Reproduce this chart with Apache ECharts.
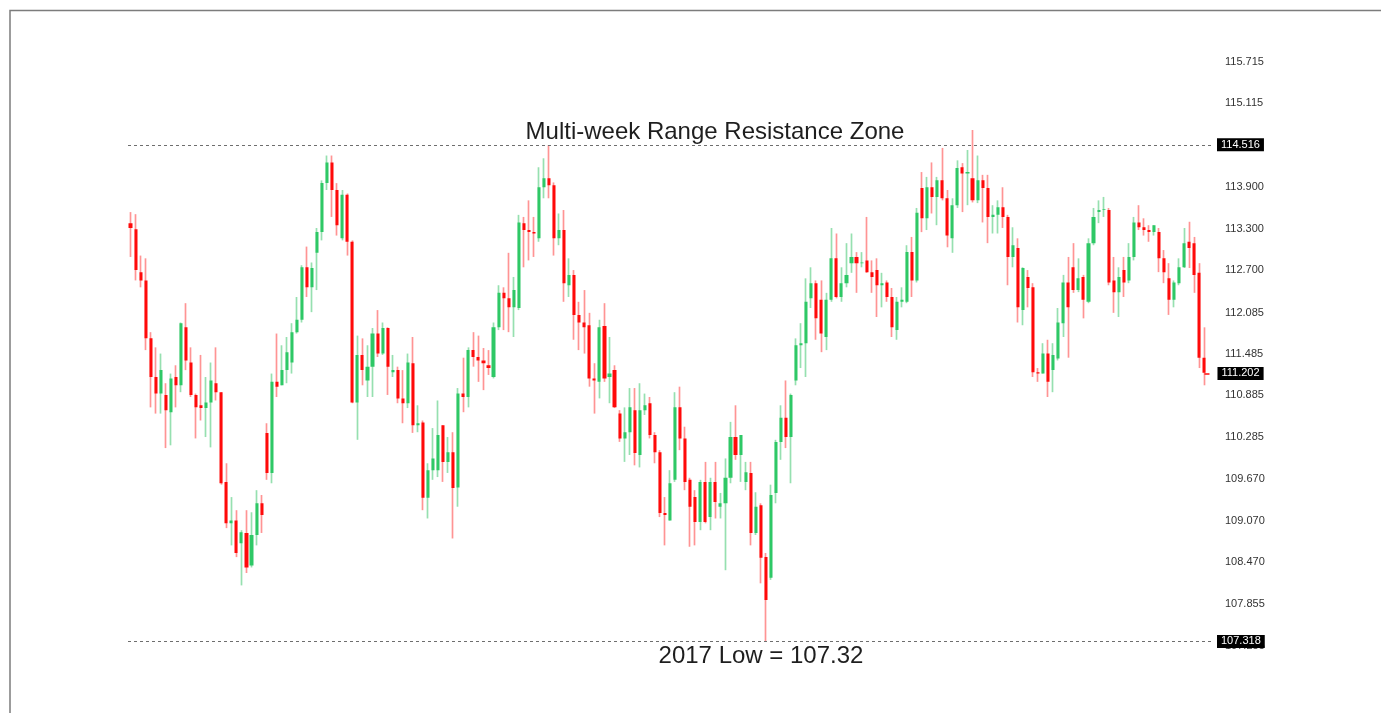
<!DOCTYPE html>
<html>
<head>
<meta charset="utf-8">
<title>USDJPY range</title>
<script src="https://cdn.jsdelivr.net/npm/echarts@6/dist/echarts.min.js"></script>
<style>
  html, body { margin: 0; padding: 0; background: #fff; }
  #chart { width: 1381px; height: 713px; }
</style>
</head>
<body>
<div id="chart"></div>
<script>
// daily candles (oldest first)
const opens = [
  113.38, 113.29, 112.67, 112.55, 111.71, 111.15, 110.91, 110.89, 110.64, 111.15,
  111.03, 111.87, 111.36, 110.89, 110.74, 110.70, 110.78, 111.06, 110.93, 109.63,
  109.03, 109.07, 108.74, 108.89, 108.42, 108.86, 109.32, 110.34, 109.76, 111.08,
  111.03, 111.25, 111.36, 111.80, 111.98, 112.74, 112.45, 112.95, 113.25, 113.96,
  114.26, 113.86, 113.16, 113.79, 113.11, 110.78, 111.47, 111.10, 111.30, 111.78,
  111.49, 111.86, 111.22, 111.25, 110.84, 110.77, 111.35, 110.45, 110.49, 109.40,
  109.80, 109.80, 110.45, 109.92, 110.06, 109.55, 110.91, 110.86, 111.54, 111.44,
  111.39, 111.32, 111.15, 111.87, 112.37, 112.29, 112.16, 112.15, 113.38, 113.28,
  113.25, 113.16, 113.90, 114.03, 113.93, 113.16, 113.28, 112.48, 112.63, 112.05,
  111.94, 111.90, 111.13, 111.08, 111.89, 111.15, 111.25, 110.62, 110.26, 110.35,
  110.67, 110.02, 110.67, 110.77, 110.31, 110.06, 109.18, 109.07, 109.66, 110.71,
  110.26, 109.66, 109.41, 109.05, 109.63, 109.12, 109.63, 109.27, 109.32, 109.69,
  110.28, 110.02, 109.63, 109.76, 108.89, 109.29, 108.54, 108.24, 109.47, 110.21,
  110.56, 110.28, 111.10, 111.61, 111.64, 112.29, 112.51, 112.27, 111.73, 112.27,
  112.87, 112.31, 112.51, 112.80, 112.89, 112.80, 112.84, 112.67, 112.70, 112.48,
  112.52, 112.31, 111.83, 112.24, 112.24, 112.96, 112.55, 113.89, 113.45, 113.90,
  113.76, 114.00, 113.74, 113.16, 113.64, 114.19, 114.10, 114.03, 113.71, 114.00,
  113.89, 113.47, 113.50, 113.61, 113.47, 112.89, 113.02, 112.12, 112.60, 112.45,
  111.22, 111.20, 111.49, 111.25, 111.42, 111.93, 112.52, 112.74, 112.41, 112.60,
  112.24, 113.09, 113.54, 113.57, 113.57, 112.55, 112.38, 112.70, 112.55, 112.89,
  113.39, 113.32, 113.28, 113.25, 113.25, 112.87, 112.58, 112.27, 112.51, 112.74,
  113.11, 113.09, 112.66, 111.43
];
const closes = [
  113.31, 112.70, 112.55, 111.71, 111.15, 110.91, 111.25, 110.67, 111.13, 111.03,
  111.93, 111.39, 110.89, 110.71, 110.70, 110.78, 111.10, 110.93, 109.61, 109.03,
  109.07, 108.60, 108.90, 108.39, 108.86, 109.32, 109.15, 109.76, 111.08, 111.01,
  111.25, 111.51, 111.80, 111.98, 112.74, 112.45, 112.73, 113.25, 113.96, 114.26,
  113.86, 113.35, 113.79, 113.11, 110.78, 111.47, 111.25, 111.30, 111.78, 111.49,
  111.86, 111.30, 111.25, 110.84, 110.77, 111.36, 110.45, 110.48, 109.40, 109.80,
  109.97, 110.31, 109.92, 110.06, 109.54, 110.91, 110.86, 111.54, 111.44, 111.39,
  111.35, 111.28, 111.87, 112.37, 112.29, 112.16, 112.41, 113.39, 113.28, 113.25,
  113.23, 113.90, 114.03, 113.93, 113.16, 113.28, 112.51, 112.63, 112.05, 111.94,
  111.87, 111.13, 111.10, 111.87, 111.13, 111.20, 110.71, 110.26, 110.35, 110.71,
  110.05, 110.67, 110.74, 110.31, 110.06, 109.18, 109.15, 109.61, 110.71, 110.26,
  109.63, 109.27, 109.05, 109.63, 109.05, 109.63, 109.34, 109.32, 109.69, 110.28,
  110.02, 110.31, 109.77, 108.89, 109.27, 108.53, 107.92, 109.44, 110.21, 110.56,
  110.28, 110.89, 111.61, 111.64, 112.24, 112.51, 112.00, 111.78, 112.27, 112.87,
  112.31, 112.51, 112.63, 112.89, 112.80, 112.81, 112.67, 112.60, 112.48, 112.51,
  112.31, 111.87, 112.24, 112.27, 112.96, 112.55, 113.53, 113.45, 113.90, 113.76,
  114.00, 113.74, 113.20, 113.64, 114.18, 114.10, 114.12, 113.71, 114.00, 113.89,
  113.47, 113.50, 113.61, 113.47, 112.89, 113.06, 112.16, 112.73, 112.44, 111.22,
  111.20, 111.49, 111.08, 111.47, 111.94, 112.52, 112.16, 112.41, 112.58, 112.27,
  113.09, 113.47, 113.57, 113.58, 112.52, 112.38, 112.60, 112.52, 112.89, 113.39,
  113.32, 113.28, 113.25, 113.35, 112.87, 112.67, 112.27, 112.52, 112.74, 113.09,
  113.02, 112.63, 111.43, 111.21
];
const lows = [
  112.89, 112.55, 112.45, 111.54, 110.71, 110.62, 110.62, 110.12, 110.16, 110.71,
  110.93, 111.25, 110.86, 110.26, 110.52, 110.28, 110.13, 110.81, 109.59, 108.96,
  108.71, 108.54, 108.13, 108.31, 108.39, 108.71, 108.89, 109.66, 109.61, 110.86,
  111.03, 111.06, 111.20, 111.78, 111.94, 112.31, 112.09, 112.41, 113.13, 113.86,
  113.47, 113.20, 113.13, 112.91, 110.77, 110.24, 111.03, 110.86, 110.86, 111.44,
  111.47, 110.89, 111.15, 110.77, 110.48, 110.70, 110.34, 110.35, 109.22, 109.10,
  109.66, 109.70, 109.63, 109.76, 108.81, 109.27, 110.64, 110.71, 111.30, 111.08,
  110.96, 111.18, 111.13, 111.83, 111.83, 111.80, 111.73, 112.12, 112.74, 112.84,
  112.89, 113.11, 113.74, 113.74, 112.91, 113.06, 112.24, 112.31, 111.69, 111.54,
  111.49, 111.01, 110.62, 110.84, 111.08, 110.77, 110.70, 110.21, 109.92, 110.02,
  109.87, 109.84, 110.60, 110.26, 109.90, 109.12, 108.71, 109.07, 109.63, 110.09,
  109.51, 108.69, 108.71, 108.93, 109.03, 108.93, 109.10, 109.10, 108.35, 109.61,
  109.95, 109.63, 109.51, 108.71, 108.86, 108.16, 107.32, 108.21, 109.32, 109.95,
  110.12, 109.61, 111.03, 111.28, 111.15, 112.15, 111.69, 111.51, 111.54, 112.24,
  112.29, 112.24, 112.45, 112.66, 112.37, 112.74, 112.66, 112.37, 112.02, 112.16,
  112.24, 111.73, 111.69, 112.16, 112.22, 112.31, 112.52, 113.25, 113.28, 113.52,
  113.35, 113.71, 113.03, 112.95, 113.60, 113.54, 113.64, 113.68, 113.67, 113.39,
  113.09, 113.23, 113.23, 113.31, 112.48, 112.74, 111.94, 111.90, 112.16, 111.15,
  111.08, 111.20, 110.86, 110.93, 111.39, 111.73, 111.43, 112.37, 112.38, 112.00,
  112.22, 113.06, 113.38, 113.47, 112.48, 112.08, 112.02, 112.31, 112.51, 112.84,
  113.28, 113.20, 113.11, 113.20, 112.67, 112.51, 112.05, 112.16, 112.48, 112.73,
  112.73, 112.37, 111.28, 111.03
];
const highs = [
  113.54, 113.51, 112.91, 112.87, 111.80, 111.58, 111.49, 111.06, 111.20, 111.32,
  111.94, 112.22, 111.58, 110.91, 111.47, 111.15, 111.36, 111.58, 110.93, 109.90,
  109.41, 109.22, 108.93, 109.22, 109.19, 109.51, 109.44, 110.48, 111.20, 111.78,
  111.61, 111.73, 111.93, 112.31, 112.77, 113.04, 112.81, 113.31, 114.00, 114.36,
  114.36, 113.96, 113.86, 113.81, 113.13, 111.75, 111.71, 111.61, 111.86, 112.12,
  111.94, 111.87, 111.47, 111.30, 111.25, 111.49, 111.73, 110.74, 110.52, 109.90,
  110.41, 110.81, 110.45, 110.28, 110.35, 110.99, 111.43, 111.58, 111.80, 111.75,
  111.57, 111.54, 111.94, 112.48, 112.45, 112.95, 112.60, 113.50, 113.47, 113.71,
  113.47, 114.19, 114.32, 114.51, 113.97, 113.52, 113.57, 112.87, 112.70, 112.24,
  112.41, 112.08, 111.35, 111.98, 112.22, 111.73, 111.32, 110.67, 110.71, 110.99,
  110.99, 111.06, 110.91, 110.86, 110.35, 110.09, 109.41, 109.80, 110.93, 111.01,
  110.43, 109.69, 109.51, 109.66, 109.92, 109.69, 109.92, 109.47, 109.97, 110.50,
  110.74, 110.31, 109.92, 109.92, 109.48, 109.32, 108.60, 109.59, 110.24, 110.74,
  111.10, 110.91, 111.71, 111.93, 112.58, 112.74, 112.55, 112.55, 112.37, 113.31,
  113.23, 112.74, 113.09, 113.23, 112.96, 112.96, 113.47, 112.84, 112.87, 112.66,
  112.55, 112.44, 112.31, 112.45, 113.06, 113.18, 113.60, 114.12, 114.05, 114.26,
  114.05, 114.47, 113.86, 113.74, 114.29, 114.25, 114.44, 114.73, 114.36, 114.08,
  114.08, 113.64, 113.71, 113.90, 113.50, 113.32, 113.16, 112.74, 112.70, 112.51,
  111.28, 111.64, 111.69, 111.64, 112.15, 112.63, 112.89, 113.09, 112.87, 112.63,
  113.16, 113.60, 113.71, 113.76, 113.60, 112.89, 112.74, 112.89, 113.09, 113.47,
  113.64, 113.45, 113.35, 113.35, 113.31, 112.99, 112.80, 112.55, 112.87, 113.31,
  113.40, 113.18, 112.80, 111.87
];

// price scale labels as printed on the right
const tickValues = [115.715, 115.115, 113.900, 113.300, 112.700, 112.085, 111.485,
  110.885, 110.285, 109.670, 109.070, 108.470, 107.855, 107.255];
const resistance = 114.516;
const yearLow = 107.318;
const lastPrice = 111.202;

// one spare slot on the right for the price marker
const days = opens.map((v, i) => 'd' + (i + 1)).concat(['']);
const candles = opens.map((o, i) => [o, closes[i], lows[i], highs[i]]);

const UP = '#2ec866', DOWN = '#ff0a0a';
const UP_WICK = '#96e0b0', DOWN_WICK = '#ff9494';

let chart = echarts.init(document.getElementById('chart'));

function boxLabel(value, dist) {
  return {
    show: true,
    position: 'end',
    distance: dist,
    formatter: value.toFixed(3),
    color: '#fff',
    backgroundColor: '#000',
    padding: [1, 4, 1, 4],
    fontSize: 11,
    fontFamily: 'Liberation Sans'
  };
}

chart.setOption({
  animation: false,
  backgroundColor: '#fff',
  grid: { left: 128, right: 169, top: 20, bottom: 33 },
  xAxis: {
    type: 'category',
    data: days,
    boundaryGap: true,
    axisLine: { show: false },
    axisTick: { show: false },
    axisLabel: { show: false },
    splitLine: { show: false }
  },
  yAxis: {
    type: 'value',
    position: 'right',
    min: 106.759,
    max: 116.324,
    axisLine: { show: false },
    axisTick: { show: false },
    splitLine: { show: false },
    axisLabel: {
      customValues: tickValues,
      formatter: v => v.toFixed(3),
      margin: 13,
      color: '#333',
      fontSize: 11,
      fontFamily: 'Liberation Sans'
    }
  },
  graphic: [
    {
      type: 'rect',
      shape: { x: 10, y: 10.5, width: 1400, height: 800 },
      style: { fill: 'none', stroke: '#7c7c7c', lineWidth: 1.5 },
      silent: true
    },
    {
      type: 'text',
      x: 715, y: 132,
      style: {
        text: 'Multi-week Range Resistance Zone',
        fill: '#1e1e1e',
        font: '24px "Liberation Sans", Arial, sans-serif',
        align: 'center',
        verticalAlign: 'middle'
      }
    },
    {
      type: 'text',
      x: 761, y: 656,
      style: {
        text: '2017 Low = 107.32',
        fill: '#1e1e1e',
        font: '24px "Liberation Sans", Arial, sans-serif',
        align: 'center',
        verticalAlign: 'middle'
      }
    }
  ],
  series: [
    {
      // pale wicks
      name: 'wicks',
      type: 'candlestick',
      data: candles,
      barWidth: 1,
      itemStyle: {
        color: UP_WICK, color0: DOWN_WICK,
        borderColor: UP_WICK, borderColor0: DOWN_WICK,
        borderWidth: 1.7
      },
      silent: true
    },
    {
      // solid bodies
      name: 'USDJPY',
      type: 'candlestick',
      data: candles,
      barWidth: 3.6,
      itemStyle: {
        color: UP, color0: DOWN,
        borderColor: UP, borderColor0: DOWN,
        borderWidth: 0
      },
      markLine: {
        symbol: 'none',
        silent: true,
        precision: 3,
        data: [
          {
            yAxis: resistance,
            lineStyle: { color: '#6e6e6e', type: [3, 3], width: 1 },
            label: boxLabel(resistance, 5)
          },
          {
            yAxis: yearLow,
            lineStyle: { color: '#6e6e6e', type: [3, 3], width: 1 },
            label: boxLabel(yearLow, 5)
          },
          [
            { coord: [opens.length - 1, lastPrice] },
            {
              coord: [opens.length, lastPrice],
              lineStyle: { color: DOWN, type: 'solid', width: 1.5 },
              label: boxLabel(lastPrice, 8)
            }
          ]
        ]
      }
    }
  ]
});
</script>
</body>
</html>
